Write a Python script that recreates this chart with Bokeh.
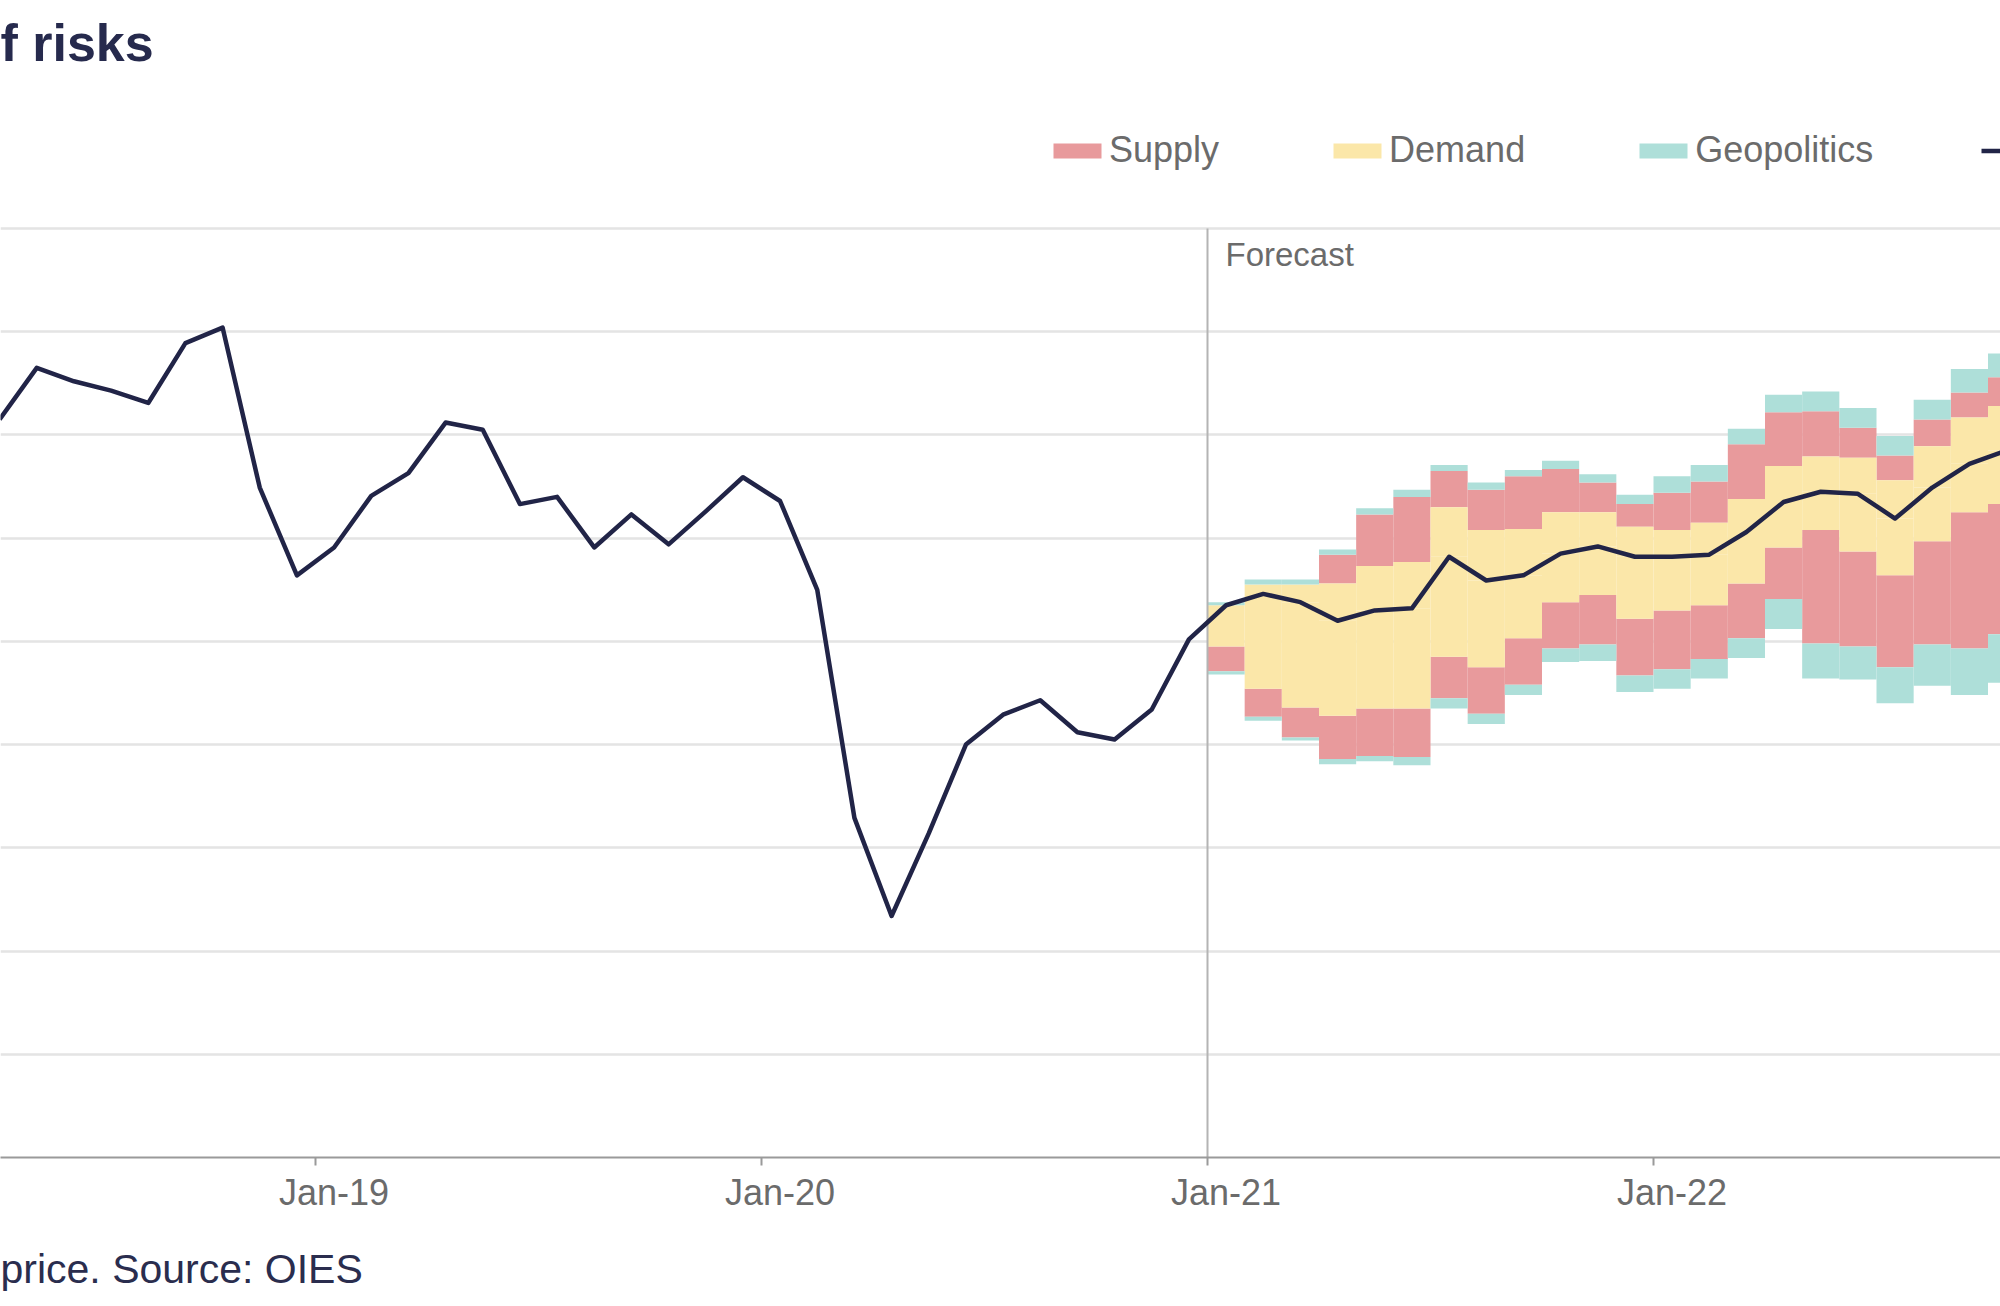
from bokeh.plotting import figure
from bokeh.layouts import column
from bokeh.models import (Range1d, FixedTicker, Grid, Label, Legend, LegendItem,
                          ColumnDataSource)
from bokeh.embed import file_html
from bokeh.resources import INLINE

FONT = "Liberation Sans"

# Monthly average Brent price (USD/bbl), history
hist_months = ["Apr-18", "May-18", "Jun-18", "Jul-18", "Aug-18", "Sep-18", "Oct-18",
               "Nov-18", "Dec-18", "Jan-19", "Feb-19", "Mar-19", "Apr-19", "May-19",
               "Jun-19", "Jul-19", "Aug-19", "Sep-19", "Oct-19", "Nov-19", "Dec-19",
               "Jan-20", "Feb-20", "Mar-20", "Apr-20", "May-20", "Jun-20", "Jul-20",
               "Aug-20", "Sep-20", "Oct-20", "Nov-20", "Dec-20"]
hist_price = [71.5, 76.5, 75.2, 74.3, 73.1, 78.9, 80.4,
              64.9, 56.4, 59.1, 64.1, 66.3, 71.2, 70.5,
              63.3, 64.0, 59.1, 62.3, 59.4, 62.6, 65.9,
              63.6, 55.0, 32.9, 23.4, 31.4, 40.0, 42.9,
              44.3, 41.2, 40.5, 43.4, 50.2]

# Base-case forecast
fc_months = ["Jan-21", "Feb-21", "Mar-21", "Apr-21", "May-21", "Jun-21", "Jul-21",
             "Aug-21", "Sep-21", "Oct-21", "Nov-21", "Dec-21", "Jan-22", "Feb-22",
             "Mar-22", "Apr-22", "May-22", "Jun-22", "Jul-22", "Aug-22", "Sep-22",
             "Oct-22"]
fc_price = [53.5, 54.6, 53.8, 52.0, 53.0, 53.2, 58.2,
            55.9, 56.4, 58.5, 59.2, 58.2, 58.2, 58.4,
            60.6, 63.5, 64.5, 64.3, 61.9, 64.9, 67.2,
            68.5]

# Size of each risk around the base case (USD/bbl), upside and downside
demand_up = [0.0, 0.9, 1.7, 3.6, 4.3, 4.5, 4.8, 4.9, 4.5, 4.0, 3.3, 2.9, 2.6, 3.1,
             3.2, 3.5, 3.4, 3.5, 3.7, 4.0, 4.5, 4.3]
supply_up = [0.0, 0.0, 0.0, 2.8, 5.0, 6.3, 3.5, 3.9, 5.1, 4.2, 2.9, 2.2, 3.6, 4.0,
             5.3, 5.2, 4.4, 2.9, 2.4, 2.6, 2.4, 2.8]
geo_up = [0.3, 0.5, 0.5, 0.5, 0.6, 0.7, 0.6, 0.7, 0.6, 0.8, 0.8, 0.9, 1.6, 1.6,
          1.5, 1.7, 1.9, 1.9, 1.9, 1.9, 2.3, 2.3]
demand_down = [4.0, 9.2, 10.2, 9.2, 9.5, 9.7, 9.7, 8.4, 6.1, 4.7, 4.7, 6.0, 5.2, 4.9,
               5.0, 4.4, 3.7, 5.6, 5.5, 5.2, 4.7, 5.2]
supply_down = [2.4, 2.7, 2.9, 4.2, 4.6, 4.7, 4.0, 4.5, 4.5, 4.5, 4.8, 5.5, 5.7, 5.2,
               5.3, 5.0, 11.0, 9.2, 8.9, 10.0, 13.2, 12.6]
geo_down = [0.3, 0.4, 0.3, 0.5, 0.5, 0.8, 1.0, 1.0, 1.0, 1.3, 1.6, 1.6, 1.9, 1.9,
            1.9, 2.9, 3.4, 3.2, 3.5, 4.0, 4.5, 4.7]

tick_months = ["Jan-18", "Jan-19", "Jan-20", "Jan-21", "Jan-22", "Jan-23"]
y_grid = [10, 20, 30, 40, 50, 60, 70, 80, 90]

MONTHS = ["Jan", "Feb", "Mar", "Apr", "May", "Jun",
          "Jul", "Aug", "Sep", "Oct", "Nov", "Dec"]


def month_pos(label):
    """Months since Jan-19 (start of the month)."""
    mon, yy = label.split("-")
    return (int(yy) - 19) * 12 + MONTHS.index(mon)


SUPPLY_C = "#e89a9c"
DEMAND_C = "#fbe7a9"
GEO_C = "#aedfd9"
LINE_C = "#212447"
TITLE_C = "#262a4d"
TEXT_GREY = "#6b6b6b"
AXIS_GREY = "#9a9a9a"

# Stack the risk blocks outward from the base case: demand, supply, geopolitics
blocks = {k: dict(left=[], right=[], bottom=[], top=[]) for k in ("supply", "demand", "geo")}
for i, mlab in enumerate(fc_months):
    x0 = month_pos(mlab)
    c = fc_price[i]
    for sign, parts in ((1, [("demand", demand_up[i]), ("supply", supply_up[i]), ("geo", geo_up[i])]),
                        (-1, [("demand", demand_down[i]), ("supply", supply_down[i]), ("geo", geo_down[i])])):
        level = c
        for key, size in parts:
            if size > 0:
                b = blocks[key]
                b["left"].append(x0)
                b["right"].append(x0 + 1)
                b["bottom"].append(min(level, level + sign * size))
                b["top"].append(max(level, level + sign * size))
            level += sign * size

line_x = [month_pos(m) + 0.5 for m in hist_months + fc_months]
line_y = hist_price + fc_price

# Page geometry (pixels)
W, H = 2000, 1306
PX_PER_MONTH = 446 / 12.0
X0_PX = 315.0          # Jan-19 boundary
FRAME_BOTTOM = 1157    # y = 0
GRID_TOP = 228         # y = 90
MAIN_H = 1217          # chart part; the source note sits below it
FOOT_H = H - MAIN_H
y_top = 90 * FRAME_BOTTOM / (FRAME_BOTTOM - GRID_TOP)

p = figure(width=W, height=MAIN_H, output_backend="svg", toolbar_location=None,
           x_axis_location="below", y_axis_location=None,
           x_range=Range1d(-X0_PX / PX_PER_MONTH, (W - X0_PX) / PX_PER_MONTH),
           y_range=Range1d(0, y_top),
           min_border_left=0, min_border_right=0,
           min_border_top=0, min_border_bottom=MAIN_H - FRAME_BOTTOM)
p.outline_line_color = None
p.background_fill_color = "white"
p.border_fill_color = "white"
p.xgrid.visible = False
p.ygrid.visible = False

p.add_layout(Grid(dimension=1, ticker=FixedTicker(ticks=y_grid),
                  grid_line_color="#e4e4e4", grid_line_width=2.5))

# Month labels sit mid-January; tick marks on the year boundary
xa = p.xaxis[0]
xa.ticker = FixedTicker(ticks=[month_pos(m) + 0.5 for m in tick_months],
                        minor_ticks=[month_pos(m) for m in tick_months])
xa.major_label_overrides = {month_pos(m) + 0.5: m for m in tick_months}
xa.axis_line_color = AXIS_GREY
xa.axis_line_width = 2
xa.major_tick_line_color = None
xa.major_tick_out = 8
xa.major_tick_in = 0
xa.minor_tick_line_color = AXIS_GREY
xa.minor_tick_line_width = 2
xa.minor_tick_out = 8
xa.minor_tick_in = 0
xa.major_label_text_font = FONT
xa.major_label_text_font_size = "36px"
xa.major_label_text_color = TEXT_GREY
xa.major_label_standoff = 6

r_supply = p.quad(source=ColumnDataSource(blocks["supply"]), left="left", right="right",
                  bottom="bottom", top="top", fill_color=SUPPLY_C, line_color=None)
r_demand = p.quad(source=ColumnDataSource(blocks["demand"]), left="left", right="right",
                  bottom="bottom", top="top", fill_color=DEMAND_C, line_color=None)
r_geo = p.quad(source=ColumnDataSource(blocks["geo"]), left="left", right="right",
               bottom="bottom", top="top", fill_color=GEO_C, line_color=None)

# Start of the forecast period
fc_start = month_pos(fc_months[0])
p.segment(x0=[fc_start], y0=[0], x1=[fc_start], y1=[y_grid[-1]],
          line_color="#b4b4b4", line_width=2)

r_line = p.line(line_x, line_y, line_color=LINE_C, line_width=4.5, line_join="round")

p.add_layout(Label(x=fc_start, y=FRAME_BOTTOM - 254, x_units="data", y_units="screen",
                   x_offset=18, text="Forecast", text_font=FONT,
                   text_font_size="33px", text_color=TEXT_GREY,
                   text_baseline="middle"))

legend = Legend(items=[LegendItem(label="Supply", renderers=[r_supply]),
                       LegendItem(label="Demand", renderers=[r_demand]),
                       LegendItem(label="Geopolitics", renderers=[r_geo]),
                       LegendItem(label="", renderers=[r_line])],
                orientation="horizontal", location=(1047, FRAME_BOTTOM - 171),
                glyph_width=60, glyph_height=19, label_standoff=2, spacing=108,
                padding=0, margin=0, border_line_color=None,
                background_fill_alpha=0, label_text_font=FONT,
                label_text_font_size="36px", label_text_color=TEXT_GREY)
p.add_layout(legend)

p.add_layout(Label(x=0, y=FRAME_BOTTOM - 42, x_units="screen", y_units="screen",
                   text="f risks", text_font=FONT, text_font_size="52px",
                   text_font_style="bold", text_color=TITLE_C,
                   text_baseline="middle"))

# Source note strip under the chart
foot = figure(width=W, height=FOOT_H, output_backend="svg", toolbar_location=None,
              x_axis_location=None, y_axis_location=None,
              x_range=Range1d(0, 1), y_range=Range1d(0, 1),
              min_border_left=0, min_border_right=0,
              min_border_top=0, min_border_bottom=0)
foot.outline_line_color = None
foot.xgrid.visible = False
foot.ygrid.visible = False
foot.add_layout(Label(x=0, y=FOOT_H - (1268 - MAIN_H), x_units="screen", y_units="screen",
                      text="price. Source: OIES", text_font=FONT, text_font_size="41px",
                      text_color="#2a2d4e", text_baseline="middle"))

layout = column(p, foot, spacing=0)
open("out.html", "w").write(file_html(layout, INLINE))
